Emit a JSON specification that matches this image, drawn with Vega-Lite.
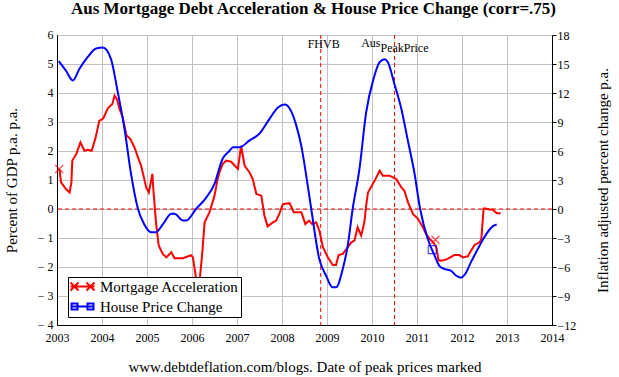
{
  "$schema": "https://vega.github.io/schema/vega-lite/v6.json",
  "width": 495,
  "height": 290,
  "autosize": "none",
  "padding": {"left": 57, "top": 35, "right": 67, "bottom": 52},
  "background": "white",
  "title": {
    "text": "Aus Mortgage Debt Acceleration & House Price Change (corr=.75)",
    "font": "Liberation Serif",
    "fontSize": 17,
    "fontWeight": "bold",
    "color": "black",
    "offset": 10,
    "dx": 9
  },
  "config": {
    "font": "Liberation Serif",
    "view": {"stroke": "black", "strokeWidth": 1},
    "axis": {
      "labelFont": "Liberation Serif",
      "titleFont": "Liberation Serif",
      "labelColor": "black",
      "titleColor": "black",
      "titleFontWeight": "normal",
      "domainColor": "black",
      "tickColor": "black",
      "gridColor": "#c0c0c0",
      "gridOpacity": 1,
      "gridWidth": 1,
      "labelOverlap": false,
      "labelFlush": false
    },
    "legend": {"labelFont": "Liberation Serif"}
  },
  "datasets": {
    "lines": [
      {"series": "Mortgage Acceleration", "year": 2003.04, "value": 1.38},
      {"series": "Mortgage Acceleration", "year": 2003.06, "value": 1.32},
      {"series": "Mortgage Acceleration", "year": 2003.09, "value": 0.92},
      {"series": "Mortgage Acceleration", "year": 2003.2, "value": 0.69},
      {"series": "Mortgage Acceleration", "year": 2003.28, "value": 0.57},
      {"series": "Mortgage Acceleration", "year": 2003.32, "value": 0.92},
      {"series": "Mortgage Acceleration", "year": 2003.34, "value": 1.67},
      {"series": "Mortgage Acceleration", "year": 2003.43, "value": 1.9},
      {"series": "Mortgage Acceleration", "year": 2003.52, "value": 2.3},
      {"series": "Mortgage Acceleration", "year": 2003.61, "value": 2.01},
      {"series": "Mortgage Acceleration", "year": 2003.68, "value": 2.04},
      {"series": "Mortgage Acceleration", "year": 2003.77, "value": 2.01},
      {"series": "Mortgage Acceleration", "year": 2003.85, "value": 2.41},
      {"series": "Mortgage Acceleration", "year": 2003.94, "value": 3.04},
      {"series": "Mortgage Acceleration", "year": 2004.03, "value": 3.13},
      {"series": "Mortgage Acceleration", "year": 2004.13, "value": 3.47},
      {"series": "Mortgage Acceleration", "year": 2004.23, "value": 3.62},
      {"series": "Mortgage Acceleration", "year": 2004.28, "value": 3.91},
      {"series": "Mortgage Acceleration", "year": 2004.33, "value": 3.79},
      {"series": "Mortgage Acceleration", "year": 2004.39, "value": 3.45},
      {"series": "Mortgage Acceleration", "year": 2004.46, "value": 3.16},
      {"series": "Mortgage Acceleration", "year": 2004.54, "value": 2.55},
      {"series": "Mortgage Acceleration", "year": 2004.63, "value": 2.41},
      {"series": "Mortgage Acceleration", "year": 2004.72, "value": 2.13},
      {"series": "Mortgage Acceleration", "year": 2004.8, "value": 1.78},
      {"series": "Mortgage Acceleration", "year": 2004.87, "value": 1.49},
      {"series": "Mortgage Acceleration", "year": 2004.94, "value": 1.03},
      {"series": "Mortgage Acceleration", "year": 2004.98, "value": 0.75},
      {"series": "Mortgage Acceleration", "year": 2005.04, "value": 0.57},
      {"series": "Mortgage Acceleration", "year": 2005.09, "value": 0.98},
      {"series": "Mortgage Acceleration", "year": 2005.12, "value": 1.21},
      {"series": "Mortgage Acceleration", "year": 2005.14, "value": 0.69},
      {"series": "Mortgage Acceleration", "year": 2005.2, "value": -0.46},
      {"series": "Mortgage Acceleration", "year": 2005.26, "value": -1.26},
      {"series": "Mortgage Acceleration", "year": 2005.35, "value": -1.55},
      {"series": "Mortgage Acceleration", "year": 2005.43, "value": -1.67},
      {"series": "Mortgage Acceleration", "year": 2005.54, "value": -1.49},
      {"series": "Mortgage Acceleration", "year": 2005.61, "value": -1.7},
      {"series": "Mortgage Acceleration", "year": 2005.8, "value": -1.7},
      {"series": "Mortgage Acceleration", "year": 2005.98, "value": -1.59},
      {"series": "Mortgage Acceleration", "year": 2006.02, "value": -1.67},
      {"series": "Mortgage Acceleration", "year": 2006.06, "value": -2.07},
      {"series": "Mortgage Acceleration", "year": 2006.09, "value": -2.41},
      {"series": "Mortgage Acceleration", "year": 2006.13, "value": -2.9},
      {"series": "Mortgage Acceleration", "year": 2006.18, "value": -2.3},
      {"series": "Mortgage Acceleration", "year": 2006.23, "value": -1.49},
      {"series": "Mortgage Acceleration", "year": 2006.28, "value": -0.46},
      {"series": "Mortgage Acceleration", "year": 2006.39, "value": -0.11},
      {"series": "Mortgage Acceleration", "year": 2006.5, "value": 0.46},
      {"series": "Mortgage Acceleration", "year": 2006.57, "value": 1.03},
      {"series": "Mortgage Acceleration", "year": 2006.61, "value": 1.26},
      {"series": "Mortgage Acceleration", "year": 2006.68, "value": 1.55},
      {"series": "Mortgage Acceleration", "year": 2006.76, "value": 1.67},
      {"series": "Mortgage Acceleration", "year": 2006.87, "value": 1.63},
      {"series": "Mortgage Acceleration", "year": 2007.02, "value": 1.38},
      {"series": "Mortgage Acceleration", "year": 2007.09, "value": 2.18},
      {"series": "Mortgage Acceleration", "year": 2007.17, "value": 1.49},
      {"series": "Mortgage Acceleration", "year": 2007.28, "value": 1.26},
      {"series": "Mortgage Acceleration", "year": 2007.35, "value": 1.03},
      {"series": "Mortgage Acceleration", "year": 2007.43, "value": 0.52},
      {"series": "Mortgage Acceleration", "year": 2007.54, "value": 0.46},
      {"series": "Mortgage Acceleration", "year": 2007.61, "value": -0.23},
      {"series": "Mortgage Acceleration", "year": 2007.68, "value": -0.6},
      {"series": "Mortgage Acceleration", "year": 2007.8, "value": -0.46},
      {"series": "Mortgage Acceleration", "year": 2007.87, "value": -0.4},
      {"series": "Mortgage Acceleration", "year": 2007.94, "value": -0.17},
      {"series": "Mortgage Acceleration", "year": 2008.02, "value": 0.17},
      {"series": "Mortgage Acceleration", "year": 2008.17, "value": 0.2},
      {"series": "Mortgage Acceleration", "year": 2008.26, "value": -0.11},
      {"series": "Mortgage Acceleration", "year": 2008.43, "value": -0.11},
      {"series": "Mortgage Acceleration", "year": 2008.52, "value": -0.52},
      {"series": "Mortgage Acceleration", "year": 2008.6, "value": -0.4},
      {"series": "Mortgage Acceleration", "year": 2008.67, "value": -0.52},
      {"series": "Mortgage Acceleration", "year": 2008.76, "value": -0.46},
      {"series": "Mortgage Acceleration", "year": 2008.83, "value": -0.75},
      {"series": "Mortgage Acceleration", "year": 2008.91, "value": -1.32},
      {"series": "Mortgage Acceleration", "year": 2009.02, "value": -1.67},
      {"series": "Mortgage Acceleration", "year": 2009.13, "value": -1.93},
      {"series": "Mortgage Acceleration", "year": 2009.2, "value": -1.93},
      {"series": "Mortgage Acceleration", "year": 2009.26, "value": -1.59},
      {"series": "Mortgage Acceleration", "year": 2009.35, "value": -1.55},
      {"series": "Mortgage Acceleration", "year": 2009.46, "value": -1.32},
      {"series": "Mortgage Acceleration", "year": 2009.54, "value": -1.15},
      {"series": "Mortgage Acceleration", "year": 2009.61, "value": -1.09},
      {"series": "Mortgage Acceleration", "year": 2009.68, "value": -0.63},
      {"series": "Mortgage Acceleration", "year": 2009.76, "value": -0.92},
      {"series": "Mortgage Acceleration", "year": 2009.83, "value": -0.46},
      {"series": "Mortgage Acceleration", "year": 2009.87, "value": 0.11},
      {"series": "Mortgage Acceleration", "year": 2009.91, "value": 0.57},
      {"series": "Mortgage Acceleration", "year": 2010.06, "value": 0.98},
      {"series": "Mortgage Acceleration", "year": 2010.17, "value": 1.32},
      {"series": "Mortgage Acceleration", "year": 2010.24, "value": 1.15},
      {"series": "Mortgage Acceleration", "year": 2010.39, "value": 1.15},
      {"series": "Mortgage Acceleration", "year": 2010.54, "value": 1.03},
      {"series": "Mortgage Acceleration", "year": 2010.65, "value": 0.75},
      {"series": "Mortgage Acceleration", "year": 2010.72, "value": 0.63},
      {"series": "Mortgage Acceleration", "year": 2010.8, "value": 0.23},
      {"series": "Mortgage Acceleration", "year": 2010.91, "value": -0.17},
      {"series": "Mortgage Acceleration", "year": 2011.02, "value": -0.34},
      {"series": "Mortgage Acceleration", "year": 2011.13, "value": -0.63},
      {"series": "Mortgage Acceleration", "year": 2011.2, "value": -0.86},
      {"series": "Mortgage Acceleration", "year": 2011.28, "value": -1.03},
      {"series": "Mortgage Acceleration", "year": 2011.35, "value": -1.13},
      {"series": "Mortgage Acceleration", "year": 2011.43, "value": -1.32},
      {"series": "Mortgage Acceleration", "year": 2011.48, "value": -1.78},
      {"series": "Mortgage Acceleration", "year": 2011.57, "value": -1.78},
      {"series": "Mortgage Acceleration", "year": 2011.68, "value": -1.72},
      {"series": "Mortgage Acceleration", "year": 2011.83, "value": -1.59},
      {"series": "Mortgage Acceleration", "year": 2011.94, "value": -1.59},
      {"series": "Mortgage Acceleration", "year": 2012.02, "value": -1.67},
      {"series": "Mortgage Acceleration", "year": 2012.13, "value": -1.63},
      {"series": "Mortgage Acceleration", "year": 2012.2, "value": -1.44},
      {"series": "Mortgage Acceleration", "year": 2012.28, "value": -1.24},
      {"series": "Mortgage Acceleration", "year": 2012.39, "value": -1.15},
      {"series": "Mortgage Acceleration", "year": 2012.43, "value": -1.03},
      {"series": "Mortgage Acceleration", "year": 2012.48, "value": 0.02},
      {"series": "Mortgage Acceleration", "year": 2012.52, "value": 0.02},
      {"series": "Mortgage Acceleration", "year": 2012.61, "value": -0.02},
      {"series": "Mortgage Acceleration", "year": 2012.68, "value": -0.02},
      {"series": "Mortgage Acceleration", "year": 2012.77, "value": -0.15},
      {"series": "Mortgage Acceleration", "year": 2012.86, "value": -0.15},
      {"series": "House Price Change", "year": 2003.04, "value": 15.3},
      {"series": "House Price Change", "year": 2003.2, "value": 14.3},
      {"series": "House Price Change", "year": 2003.35, "value": 13.3},
      {"series": "House Price Change", "year": 2003.5, "value": 14.5},
      {"series": "House Price Change", "year": 2003.68, "value": 15.7},
      {"series": "House Price Change", "year": 2003.87, "value": 16.6},
      {"series": "House Price Change", "year": 2004.02, "value": 16.7},
      {"series": "House Price Change", "year": 2004.2, "value": 15.5},
      {"series": "House Price Change", "year": 2004.35, "value": 12.1},
      {"series": "House Price Change", "year": 2004.5, "value": 8.3},
      {"series": "House Price Change", "year": 2004.65, "value": 3.5},
      {"series": "House Price Change", "year": 2004.8, "value": 0.0},
      {"series": "House Price Change", "year": 2004.94, "value": -1.6},
      {"series": "House Price Change", "year": 2005.09, "value": -2.4},
      {"series": "House Price Change", "year": 2005.2, "value": -2.4},
      {"series": "House Price Change", "year": 2005.35, "value": -1.6},
      {"series": "House Price Change", "year": 2005.54, "value": -0.5},
      {"series": "House Price Change", "year": 2005.61, "value": -0.5},
      {"series": "House Price Change", "year": 2005.8, "value": -1.2},
      {"series": "House Price Change", "year": 2005.87, "value": -1.2},
      {"series": "House Price Change", "year": 2006.09, "value": 0.0},
      {"series": "House Price Change", "year": 2006.32, "value": 1.2},
      {"series": "House Price Change", "year": 2006.5, "value": 2.6},
      {"series": "House Price Change", "year": 2006.68, "value": 5.2},
      {"series": "House Price Change", "year": 2006.83, "value": 6.0},
      {"series": "House Price Change", "year": 2006.91, "value": 6.4},
      {"series": "House Price Change", "year": 2007.06, "value": 6.4},
      {"series": "House Price Change", "year": 2007.28, "value": 7.1},
      {"series": "House Price Change", "year": 2007.5, "value": 7.8},
      {"series": "House Price Change", "year": 2007.72, "value": 9.3},
      {"series": "House Price Change", "year": 2007.91, "value": 10.5},
      {"series": "House Price Change", "year": 2008.06, "value": 10.8},
      {"series": "House Price Change", "year": 2008.17, "value": 10.4},
      {"series": "House Price Change", "year": 2008.32, "value": 8.6},
      {"series": "House Price Change", "year": 2008.43, "value": 6.5},
      {"series": "House Price Change", "year": 2008.55, "value": 3.1},
      {"series": "House Price Change", "year": 2008.65, "value": 0.0},
      {"series": "House Price Change", "year": 2008.83, "value": -5.2},
      {"series": "House Price Change", "year": 2008.98, "value": -6.9},
      {"series": "House Price Change", "year": 2009.12, "value": -8.1},
      {"series": "House Price Change", "year": 2009.2, "value": -8.1},
      {"series": "House Price Change", "year": 2009.35, "value": -6.2},
      {"series": "House Price Change", "year": 2009.46, "value": -3.8},
      {"series": "House Price Change", "year": 2009.57, "value": 0.0},
      {"series": "House Price Change", "year": 2009.72, "value": 4.1},
      {"series": "House Price Change", "year": 2009.87, "value": 10.0},
      {"series": "House Price Change", "year": 2010.03, "value": 13.4},
      {"series": "House Price Change", "year": 2010.17, "value": 15.2},
      {"series": "House Price Change", "year": 2010.28, "value": 15.5},
      {"series": "House Price Change", "year": 2010.35, "value": 15.2},
      {"series": "House Price Change", "year": 2010.5, "value": 12.9},
      {"series": "House Price Change", "year": 2010.65, "value": 10.4},
      {"series": "House Price Change", "year": 2010.8, "value": 7.0},
      {"series": "House Price Change", "year": 2010.94, "value": 3.8},
      {"series": "House Price Change", "year": 2011.07, "value": 0.0},
      {"series": "House Price Change", "year": 2011.24, "value": -3.1},
      {"series": "House Price Change", "year": 2011.39, "value": -4.8},
      {"series": "House Price Change", "year": 2011.5, "value": -5.9},
      {"series": "House Price Change", "year": 2011.61, "value": -6.2},
      {"series": "House Price Change", "year": 2011.76, "value": -6.4},
      {"series": "House Price Change", "year": 2011.87, "value": -6.9},
      {"series": "House Price Change", "year": 2011.98, "value": -7.1},
      {"series": "House Price Change", "year": 2012.06, "value": -6.8},
      {"series": "House Price Change", "year": 2012.2, "value": -5.5},
      {"series": "House Price Change", "year": 2012.39, "value": -3.8},
      {"series": "House Price Change", "year": 2012.54, "value": -2.6},
      {"series": "House Price Change", "year": 2012.68, "value": -1.8},
      {"series": "House Price Change", "year": 2012.77, "value": -1.6}
    ],
    "markers": [
      {"series": "Mortgage Acceleration", "year": 2003.05, "value": 1.38},
      {"series": "Mortgage Acceleration", "year": 2011.41, "value": -1.06},
      {"series": "House Price Change", "year": 2011.34, "value": -4.2}
    ],
    "events": [
      {"name": "FHVB", "year": 2008.86},
      {"name": "AusPeak", "year": 2010.5}
    ],
    "notes": [
      {"label": "FHVB", "year": 2008.86, "value": 5.7},
      {"label": "Aus", "year": 2010.5, "value": 5.74},
      {"label": "PeakPrice", "year": 2010.5, "value": 5.56}
    ]
  },
  "layer": [
    {
      "data": {"name": "events"},
      "mark": {"type": "rule", "color": "red", "strokeWidth": 1, "strokeDash": [4, 3]},
      "encoding": {
        "x": {"field": "year", "type": "quantitative", "scale": {"domain": [2003, 2014], "nice": false, "zero": false},
          "axis": {
            "values": [2003, 2004, 2005, 2006, 2007, 2008, 2009, 2010, 2011, 2012, 2013, 2014],
            "format": "d",
            "grid": true,
            "ticks": false,
            "labelFont": "Liberation Serif",
            "labelFontSize": 12,
            "labelPadding": 7,
            "labelOverlap": false,
            "labelFlush": false,
            "title": "www.debtdeflation.com/blogs. Date of peak prices marked",
            "titleFont": "Liberation Serif",
            "titleFontSize": 15,
            "titlePadding": 16
          }
        }
      }
    },
    {
      "data": {"name": "lines"},
      "transform": [{"filter": "datum.series === 'Mortgage Acceleration'"}],
      "mark": {"type": "line", "strokeWidth": 2, "interpolate": "linear"},
      "encoding": {
        "x": {"field": "year", "type": "quantitative"},
        "y": {"field": "value", "type": "quantitative",
          "scale": {"domain": [-4, 6], "nice": false, "zero": false},
          "axis": {
            "orient": "left",
            "values": [-4, -3, -2, -1, 0, 1, 2, 3, 4, 5, 6],
            "grid": true,
            "ticks": false,
            "labelFont": "Liberation Serif",
            "labelFontSize": 12,
            "labelPadding": 4,
            "labelOffset": -1,
            "labelOverlap": false,
            "labelExpr": "datum.value < 0 ? '\u2212 ' + abs(datum.value) : datum.label",
            "title": "Percent of GDP p.a. p.a.",
            "titleFont": "Liberation Serif",
            "titleFontSize": 15,
            "titlePadding": 18
          }
        },
        "color": {
          "field": "series",
          "type": "nominal",
          "scale": {"domain": ["Mortgage Acceleration", "House Price Change"], "range": ["#ff0000", "#0000ff"]},
          "legend": {
            "orient": "none",
            "legendX": 11,
            "legendY": 242,
            "title": null,
            "strokeColor": "black",
            "fillColor": "white",
            "padding": 2,
            "labelFont": "Liberation Serif",
            "labelFontSize": 15,
            "labelColor": "black",
            "symbolSize": 144,
            "symbolOffset": 5,
            "labelOffset": 10,
            "rowPadding": 4,
            "symbolStrokeWidth": 2,
            "zindex": 5,
            "encode": {
              "symbols": {
                "update": {
                  "shape": {"signal": "datum.value === 'Mortgage Acceleration' ? 'M-2,0L2,0M-2,-0.67L-0.67,0.67M-2,0.67L-0.67,-0.67M0.67,-0.67L2,0.67M0.67,0.67L2,-0.67' : 'M-2,0L2,0M-1.83,-0.5L-0.83,-0.5L-0.83,0.5L-1.83,0.5ZM0.83,-0.5L1.83,-0.5L1.83,0.5L0.83,0.5Z'"},
                  "fill": {"value": "transparent"},
                  "strokeWidth": {"value": 2}
                }
              },
              "labels": {
                "update": {
                  "font": {"value": "Liberation Serif"}
                }
              }
            }
          }
        }
      }
    },
    {
      "data": {"values": [{"zero": 0}]},
      "mark": {"type": "rule", "color": "red", "strokeWidth": 1, "strokeDash": [4, 3]},
      "encoding": {
        "y": {"field": "zero", "type": "quantitative", "scale": {"domain": [-4, 6], "nice": false, "zero": false}, "axis": null}
      }
    },
    {
      "data": {"name": "markers"},
      "transform": [{"filter": "datum.series === 'Mortgage Acceleration'"}],
      "mark": {"type": "point", "shape": "M-1,-1L1,1M-1,1L1,-1", "size": 64, "color": "red", "strokeWidth": 1.2, "filled": false},
      "encoding": {
        "x": {"field": "year", "type": "quantitative"},
        "y": {"field": "value", "type": "quantitative", "scale": {"domain": [-4, 6], "nice": false, "zero": false}, "axis": null}
      }
    },
    {
      "data": {"name": "notes"},
      "transform": [{"filter": "datum.label === 'FHVB'"}],
      "mark": {"type": "text", "align": "left", "baseline": "middle", "dx": -13, "fontSize": 12, "font": "Liberation Serif", "color": "black"},
      "encoding": {
        "x": {"field": "year", "type": "quantitative"},
        "y": {"field": "value", "type": "quantitative", "scale": {"domain": [-4, 6], "nice": false, "zero": false}, "axis": null},
        "text": {"field": "label"}
      }
    },
    {
      "data": {"name": "notes"},
      "transform": [{"filter": "datum.label === 'Aus'"}],
      "mark": {"type": "text", "align": "right", "baseline": "middle", "dx": -14, "fontSize": 12, "font": "Liberation Serif", "color": "black"},
      "encoding": {
        "x": {"field": "year", "type": "quantitative"},
        "y": {"field": "value", "type": "quantitative", "scale": {"domain": [-4, 6], "nice": false, "zero": false}, "axis": null},
        "text": {"field": "label"}
      }
    },
    {
      "data": {"name": "notes"},
      "transform": [{"filter": "datum.label === 'PeakPrice'"}],
      "mark": {"type": "text", "align": "left", "baseline": "middle", "dx": -14, "fontSize": 12, "font": "Liberation Serif", "color": "black"},
      "encoding": {
        "x": {"field": "year", "type": "quantitative"},
        "y": {"field": "value", "type": "quantitative", "scale": {"domain": [-4, 6], "nice": false, "zero": false}, "axis": null},
        "text": {"field": "label"}
      }
    },
    {
      "data": {"name": "lines"},
      "transform": [{"filter": "datum.series === 'House Price Change'"}],
      "mark": {"type": "line", "strokeWidth": 2, "interpolate": "monotone"},
      "encoding": {
        "x": {"field": "year", "type": "quantitative"},
        "y": {"field": "value", "type": "quantitative",
          "scale": {"domain": [-12, 18], "nice": false, "zero": false},
          "axis": {
            "orient": "right",
            "values": [-12, -9, -6, -3, 0, 3, 6, 9, 12, 15, 18],
            "grid": false,
            "tickSize": 4,
            "labelFont": "Liberation Serif",
            "labelFontSize": 12,
            "labelPadding": 1,
            "labelOverlap": false,
            "labelExpr": "datum.value < 0 ? '\u2212' + abs(datum.value) : datum.label",
            "title": "Inflation adjusted percent change p.a.",
            "titleFont": "Liberation Serif",
            "titleFontSize": 15,
            "titleAngle": 270,
            "titlePadding": 35
          }
        },
        "color": {"field": "series", "type": "nominal"}
      }
    },
    {
      "data": {"name": "markers"},
      "transform": [{"filter": "datum.series === 'House Price Change'"}],
      "mark": {"type": "point", "shape": "square", "size": 64, "color": "blue", "strokeWidth": 1.2, "filled": false},
      "encoding": {
        "x": {"field": "year", "type": "quantitative"},
        "y": {"field": "value", "type": "quantitative", "scale": {"domain": [-12, 18], "nice": false, "zero": false}, "axis": null}
      }
    }
  ],
  "resolve": {"scale": {"y": "independent"}}
}
